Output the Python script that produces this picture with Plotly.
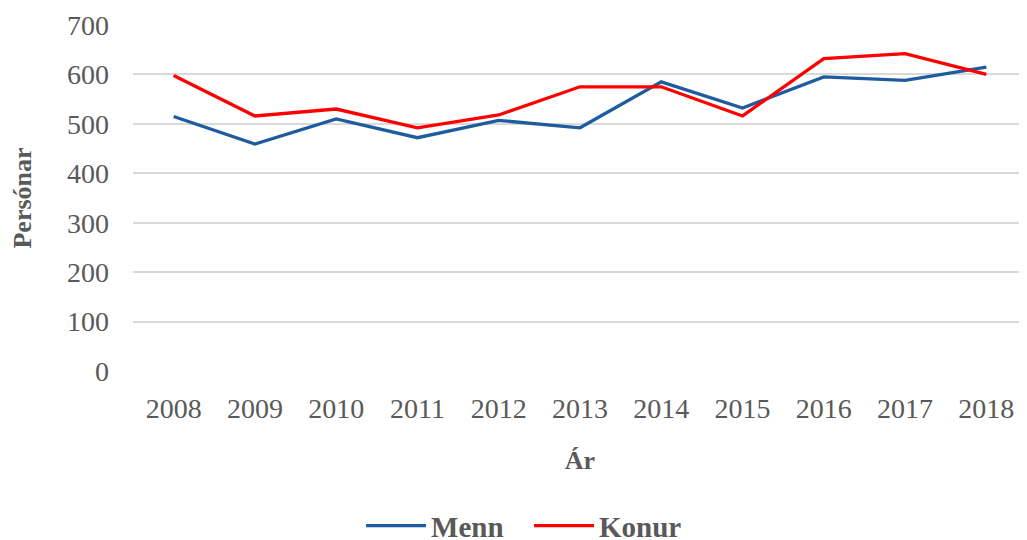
import plotly.graph_objects as go

years = ["2008", "2009", "2010", "2011", "2012", "2013", "2014", "2015", "2016", "2017", "2018"]
menn = [515, 459, 510, 472, 507, 492, 585, 532, 595, 588, 615]
konur = [598, 516, 530, 492, 518, 575, 575, 516, 632, 642, 600]

font_family = "Liberation Serif, Times New Roman, serif"
gray = "#595959"

fig = go.Figure()
fig.add_trace(go.Scatter(x=years, y=menn, name="Menn", mode="lines",
                         line=dict(color="#1F5C9E", width=3.3)))
fig.add_trace(go.Scatter(x=years, y=konur, name="Konur", mode="lines",
                         line=dict(color="#FF0000", width=3.3)))

fig.update_layout(
    width=1019, height=532,
    margin=dict(l=125, r=0, t=17, b=169),
    plot_bgcolor="white", paper_bgcolor="white",
    font=dict(family=font_family, color=gray, size=28),
    showlegend=True,
    legend=dict(orientation="h", x=0.443, xanchor="center",
                yref="container", y=0.0745, yanchor="top",
                font=dict(size=29, color=gray, family=font_family, weight="bold"),
                itemwidth=60, entrywidth=93, entrywidthmode="pixels", tracegroupgap=0),
    xaxis=dict(type="category", range=[-0.5, 10.5], showgrid=False, showline=False,
               zeroline=False, ticks="", tickfont=dict(size=28, color=gray),
               ticklabelstandoff=18, tickangle=0, automargin=False,
               title=dict(text="<b>Ár</b>", font=dict(size=26, color=gray), standoff=27)),
    yaxis=dict(range=[0, 700], dtick=100, showgrid=True, gridcolor="#D9D9D9", gridwidth=2,
               zeroline=False, showline=False, ticks="", automargin=False,
               tickfont=dict(size=28, color=gray), ticklabelstandoff=23,
               title=dict(text="<b>Persónar</b>", font=dict(size=26, color=gray), standoff=29)),
)

fig.write_html("out.html")
